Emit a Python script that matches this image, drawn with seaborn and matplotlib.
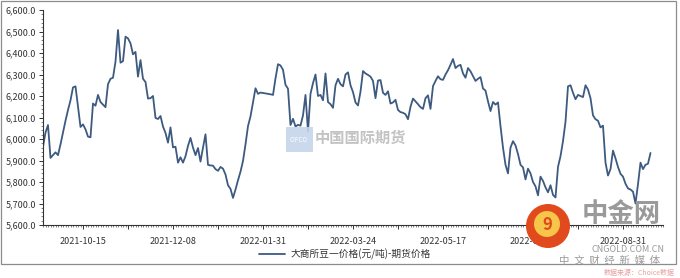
import matplotlib
matplotlib.use("Agg")
import numpy as np
import pandas as pd
import matplotlib.pyplot as plt
import seaborn as sns
from matplotlib.ticker import FuncFormatter, MultipleLocator, FixedLocator
from matplotlib.patches import Rectangle, Ellipse

# ---- data ----
prices = [
    5964, 6030, 6065, 5912, 5925, 5938, 5925, 5975, 6030, 6085,
    6135, 6180, 6240, 6245, 6150, 6056, 6068, 6045, 6011, 6008,
    6165, 6155, 6205, 6172, 6160, 6148, 6255, 6280, 6285, 6360,
    6507, 6355, 6362, 6476, 6468, 6445, 6394, 6405, 6290, 6367,
    6280, 6265, 6188, 6190, 6200, 6098, 6093, 6107, 6058, 6028,
    5983, 6054, 5961, 5964, 5890, 5915, 5890, 5920, 5968, 6005,
    5960, 5925, 5958, 5895, 5960, 6022, 5880, 5877, 5876, 5860,
    5852, 5870, 5862, 5835, 5785, 5768, 5726, 5765, 5808, 5848,
    5898, 5975, 6060, 6105, 6170, 6236, 6210, 6216, 6214, 6212,
    6210, 6208, 6205, 6282, 6348, 6342, 6322, 6252, 6234, 6065,
    6094, 6058, 6066, 6062, 6110, 6205, 6035, 6210, 6260, 6300,
    6200, 6205, 6180, 6305, 6172, 6162, 6145, 6250, 6280, 6255,
    6245, 6300, 6310, 6250, 6218, 6170, 6156, 6220, 6316, 6305,
    6298, 6290, 6270, 6190, 6272, 6274, 6215, 6205, 6222, 6165,
    6170, 6182, 6135, 6125, 6122, 6115, 6092, 6150, 6188, 6175,
    6162, 6148, 6140, 6190, 6203, 6140, 6246, 6270, 6292, 6278,
    6275, 6300, 6320, 6345, 6372, 6330, 6340, 6345, 6305, 6285,
    6330, 6315, 6292, 6270, 6280, 6288, 6235, 6225, 6175, 6130,
    6172, 6160, 6170, 6060, 5960, 5880, 5840, 5960, 5990, 5970,
    5930, 5880, 5868, 5812, 5862, 5840, 5800, 5780, 5738, 5825,
    5805, 5775, 5752, 5785, 5740, 5728, 5870, 5920, 5990, 6080,
    6245, 6250, 6215, 6185, 6205, 6200, 6195, 6250, 6230, 6190,
    6110, 6092, 6085, 6054, 6062, 5890, 5830, 5860, 5946, 5910,
    5870, 5838, 5825, 5792, 5770, 5765, 5755, 5700, 5790, 5890,
    5860, 5880, 5885, 5935,
]
tick_positions = [16, 52, 88, 124, 160, 196, 232]
tick_labels = ["2021-10-15", "2021-12-08", "2022-01-31", "2022-03-24",
               "2022-05-17", "2022-07-08", "2022-08-31"]
series_name = "大商所豆一价格(元/吨)-期货价格"

sns.set_theme(style="white")
plt.rcParams['font.family'] = ['Noto Sans CJK SC', 'DejaVu Sans']

W, H = 680, 278
fig = plt.figure(figsize=(W / 100, H / 100), dpi=100)
fig.patch.set_facecolor("white")

# outer frame
fig.patches.append(Rectangle((1 / W, 1 - 264 / H), 675 / W, 263 / H,
                             transform=fig.transFigure, fill=False,
                             edgecolor="#8c8c8c", linewidth=0.9))

ax = fig.add_axes([43 / W, 1 - 225 / H, 620 / W, 215 / H])
df = pd.DataFrame({"idx": np.arange(len(prices)), "price": prices})
sns.lineplot(data=df, x="idx", y="price", ax=ax, color="#3d5a80",
             linewidth=1.3, label=series_name)

ax.set_xlim(0, 248)
ax.set_ylim(5600, 6600)
ax.set_xlabel("")
ax.set_ylabel("")

ax.yaxis.set_major_locator(MultipleLocator(100))
ax.yaxis.set_minor_locator(MultipleLocator(20))
ax.yaxis.set_major_formatter(FuncFormatter(lambda v, p: f"{v:,.1f}"))

major_x = list(range(16, 248, 18))
ax.xaxis.set_major_locator(FixedLocator(major_x))
ax.set_xticklabels([tick_labels[tick_positions.index(p)] if p in tick_positions else ""
                    for p in major_x])
ax.xaxis.set_minor_locator(MultipleLocator(1))

for s in ["top", "right"]:
    ax.spines[s].set_visible(False)
for s in ["left", "bottom"]:
    ax.spines[s].set_color("#333333")
    ax.spines[s].set_linewidth(0.8)

ax.tick_params(axis="both", which="major", direction="out", length=3,
               width=0.7, color="#333333", labelsize=6.5, labelcolor="#333333", pad=2)
ax.tick_params(axis="both", which="minor", direction="out", length=1.6,
               width=0.5, color="#555555")
ax.tick_params(axis="x", which="major", pad=6)
ax.tick_params(left=True, bottom=True, which="both")

leg = ax.legend(loc="center", bbox_to_anchor=(345 / W, 1 - 254 / H),
                bbox_transform=fig.transFigure, frameon=False,
                fontsize=7, handlelength=2.6, handletextpad=0.6)
for t in leg.get_texts():
    t.set_color("#333333")

# watermarks
fig.patches.append(Rectangle((286 / W, 1 - 152 / H), 27 / W, 25 / H,
                             transform=fig.transFigure, facecolor="#c5d5ea",
                             edgecolor="none", alpha=0.9))
fig.text(299 / W, 1 - 140 / H, "CIFCO", fontsize=4.5, color="white",
         ha="center", va="center")
fig.text(315 / W, 1 - 138 / H, "中国国际期货", fontsize=11, color="#b5b5b5",
         ha="left", va="center", fontweight="bold", alpha=0.8)

fig.patches.append(Ellipse((548 / W, 1 - 226 / H), 44 / W, 44 / H,
                           transform=fig.transFigure, facecolor="#e04a1c",
                           edgecolor="none"))
fig.patches.append(Ellipse((547 / W, 1 - 224 / H), 26 / W, 26 / H,
                           transform=fig.transFigure, facecolor="#f6c64a",
                           edgecolor="none"))
fig.text(547 / W, 1 - 225 / H, "9", fontsize=12, color="#e04a1c",
         ha="center", va="center", fontweight="bold")
fig.text(621 / W, 1 - 215 / H, "中金网", fontsize=19, color="#9a9a9a",
         ha="center", va="center", fontweight="bold")
fig.text(628 / W, 1 - 250 / H, "CNGOLD.COM.CN", fontsize=6.5, color="#9a9a9a",
         ha="center", va="center")
fig.text(610 / W, 1 - 261 / H, "中  文  财  经  新  媒  体", fontsize=7.5,
         color="#9a9a9a", ha="center", va="center")
fig.text(675 / W, 1 - 273 / H, "数据来源：Choice数据", fontsize=5,
         color="#e8a0a0", ha="right", va="center")

fig.savefig("out.png", dpi=100, facecolor="white")
